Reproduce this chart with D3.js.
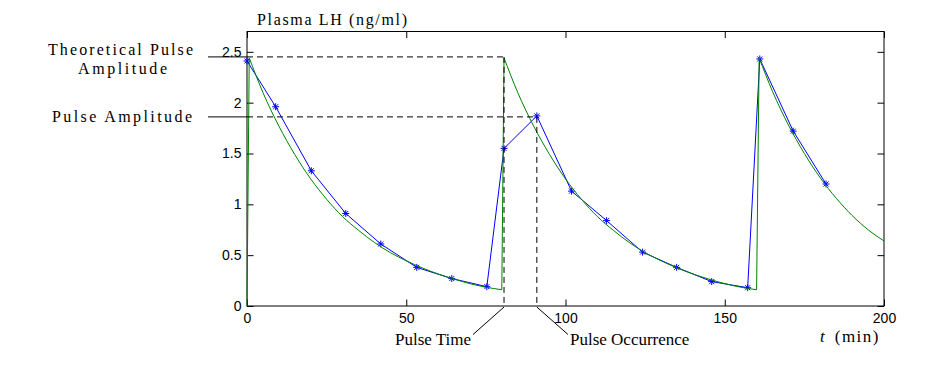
<!DOCTYPE html>
<html>
<head>
<meta charset="utf-8">
<script src="https://cdn.jsdelivr.net/npm/d3@7"></script>
<style>
  body { margin: 0; background: #fff; }
  .tick text { font-family: "Liberation Sans", Arial, sans-serif; font-size: 14px; fill: #000; }
  .tick line { stroke: #000; }
  .lbl { font-family: "Liberation Serif", serif; fill: #000; }
</style>
</head>
<body>
<div id="chart"></div>
<script>
// blood samples (blue stars)
var sampleTime = [0, 9, 20.2, 31, 42, 53.3, 64.3, 75.3, 80.7, 91, 101.9, 112.9, 124.2, 134.9, 145.9, 157.2, 161, 171.5, 181.8];
var sampleLH = [2.41, 1.96, 1.33, 0.91, 0.61, 0.38, 0.27, 0.19, 1.55, 1.87, 1.13, 0.84, 0.53, 0.38, 0.24, 0.18, 2.43, 1.72, 1.20];

// theoretical pulse profile (green)
var curveTime = [0, 0.7, 5, 10, 15, 20, 25, 30, 35, 40, 45, 50, 55, 60, 65, 70, 75, 80,
                 80.7, 85, 90, 95, 100, 105, 110, 115, 120, 125, 130, 135, 140, 145, 150, 155, 160,
                 160.8, 165, 170, 175, 180, 185, 190, 195, 200];
var curveLH = [0, 2.44, 2.10, 1.77, 1.49, 1.25, 1.05, 0.88, 0.745, 0.625, 0.525, 0.445, 0.375, 0.315, 0.265, 0.22, 0.185, 0.16,
               2.44, 2.10, 1.77, 1.49, 1.25, 1.05, 0.88, 0.745, 0.625, 0.525, 0.445, 0.375, 0.315, 0.265, 0.22, 0.185, 0.16,
               2.44, 2.11, 1.78, 1.50, 1.26, 1.06, 0.89, 0.75, 0.64];

var xTicks = [0, 50, 100, 150, 200];
var yTicks = [0, 0.5, 1, 1.5, 2, 2.5];

// annotation values
var pulseTime = 80.7, pulseOccurrence = 91;
var theoAmplitude = 2.45, pulseAmplitude = 1.86;

var W = 933, H = 376;
var pLeft = 247, pRight = 884, pTop = 31.5, pBottom = 306;

var svg = d3.select("#chart").append("svg")
    .attr("width", W)
    .attr("height", H);

var x = d3.scaleLinear().domain([0, 200]).range([pLeft, pRight]);
var y = d3.scaleLinear().domain([0, 2.7]).range([pBottom, pTop]);

// axes, MATLAB style ticks pointing inward
svg.append("g")
    .attr("transform", "translate(0," + pBottom + ")")
    .call(d3.axisBottom(x).tickValues(xTicks).tickSizeInner(-6.5).tickSizeOuter(0).tickPadding(7.5))
    .call(function(g) { g.select(".domain").remove(); });
svg.append("g")
    .attr("transform", "translate(0," + pTop + ")")
    .call(d3.axisTop(x).tickValues(xTicks).tickSizeInner(-6.5).tickSizeOuter(0).tickFormat(""))
    .call(function(g) { g.select(".domain").remove(); });
svg.append("g")
    .attr("transform", "translate(" + pLeft + ",0)")
    .call(d3.axisLeft(y).tickValues(yTicks).tickSizeInner(-6.5).tickSizeOuter(0).tickPadding(5.5).tickFormat(d3.format("")))
    .call(function(g) { g.select(".domain").remove(); });
svg.append("g")
    .attr("transform", "translate(" + pRight + ",0)")
    .call(d3.axisRight(y).tickValues(yTicks).tickSizeInner(-6.5).tickSizeOuter(0).tickFormat(""))
    .call(function(g) { g.select(".domain").remove(); });
svg.selectAll(".tick text").attr("font-family", null).attr("font-size", null);

svg.append("rect")
    .attr("x", pLeft).attr("y", pTop)
    .attr("width", pRight - pLeft).attr("height", pBottom - pTop)
    .attr("fill", "none").attr("stroke", "#000").attr("stroke-width", 1);

// blue sampled line + stars
var samples = sampleTime.map(function(t, i) { return {t: t, v: sampleLH[i]}; });
svg.append("path")
    .datum(samples)
    .attr("fill", "none")
    .attr("stroke", "#0000ff")
    .attr("stroke-width", 1)
    .attr("d", d3.line().x(function(d) { return x(d.t); }).y(function(d) { return y(d.v); }));

var s = 3.5, s2 = 2.5;
var star = "M" + (-s) + ",0L" + s + ",0M0," + (-s) + "L0," + s +
           "M" + (-s2) + "," + (-s2) + "L" + s2 + "," + s2 + "M" + (-s2) + "," + s2 + "L" + s2 + "," + (-s2);
svg.selectAll(".star")
    .data(samples)
  .enter().append("path")
    .attr("class", "star")
    .attr("transform", function(d) { return "translate(" + x(d.t) + "," + y(d.v) + ")"; })
    .attr("d", star)
    .attr("stroke", "#0000ff")
    .attr("stroke-width", 1)
    .attr("fill", "none");

// green theoretical curve: smooth decays joined by steep rises
var pts = curveTime.map(function(t, i) { return {t: t, v: curveLH[i]}; });
var runs = [], cur = [pts[0]];
for (var i = 1; i < pts.length; i++) {
  if (pts[i].v > pts[i - 1].v) {
    runs.push(cur);
    runs.push([pts[i - 1], pts[i]]);
    cur = [pts[i]];
  } else {
    cur.push(pts[i]);
  }
}
runs.push(cur);
var smooth = d3.line().curve(d3.curveMonotoneX)
    .x(function(d) { return x(d.t); }).y(function(d) { return y(d.v); });
svg.append("g").selectAll("path")
    .data(runs.filter(function(r) { return r.length > 1; }))
  .enter().append("path")
    .attr("fill", "none")
    .attr("stroke", "#008000")
    .attr("stroke-width", 1)
    .attr("d", smooth);

// annotations
var ann = svg.append("g").attr("stroke", "#000").attr("stroke-width", 1).attr("fill", "none");
ann.append("line").attr("x1", 208).attr("x2", pLeft).attr("y1", y(theoAmplitude)).attr("y2", y(theoAmplitude));
ann.append("line").attr("x1", 208).attr("x2", pLeft).attr("y1", y(pulseAmplitude)).attr("y2", y(pulseAmplitude));
ann.append("line").attr("x1", pLeft).attr("x2", x(pulseTime)).attr("y1", y(theoAmplitude)).attr("y2", y(theoAmplitude))
    .attr("stroke-dasharray", "6,4");
ann.append("line").attr("x1", pLeft).attr("x2", x(pulseOccurrence)).attr("y1", y(pulseAmplitude)).attr("y2", y(pulseAmplitude))
    .attr("stroke-dasharray", "6,4");
ann.append("line").attr("x1", x(pulseTime)).attr("x2", x(pulseTime)).attr("y1", y(theoAmplitude)).attr("y2", pBottom)
    .attr("stroke-dasharray", "6,4");
ann.append("line").attr("x1", x(pulseOccurrence)).attr("x2", x(pulseOccurrence)).attr("y1", y(pulseAmplitude)).attr("y2", pBottom)
    .attr("stroke-dasharray", "6,4");
ann.append("line").attr("x1", x(pulseTime)).attr("x2", 473).attr("y1", pBottom + 1).attr("y2", 334.5);
ann.append("line").attr("x1", x(pulseOccurrence)).attr("x2", 568).attr("y1", pBottom + 1).attr("y2", 334.5);

function label(txt, xx, yy, size, len, anchor) {
  var t = svg.append("text").attr("class", "lbl")
      .attr("x", xx).attr("y", yy)
      .attr("font-size", size)
      .attr("text-anchor", anchor || "start")
      .text(txt);
  if (len) t.attr("textLength", len).attr("lengthAdjust", "spacing");
  return t;
}
label("Plasma LH (ng/ml)", 257, 25, 16, 150);
label("Theoretical Pulse", 48, 55, 16, 145);
label("Amplitude", 78, 74, 16, 89);
label("Pulse Amplitude", 52, 122, 16, 140);
label("Pulse Time", 395, 345, 17);
label("Pulse Occurrence", 570, 345, 17);

var tl = svg.append("text").attr("class", "lbl").attr("x", 820).attr("y", 342).attr("font-size", 17);
tl.append("tspan").attr("font-style", "italic").text("t");
tl.append("tspan").attr("dx", 10).attr("letter-spacing", 1.5).text("(min)");
</script>
</body>
</html>
